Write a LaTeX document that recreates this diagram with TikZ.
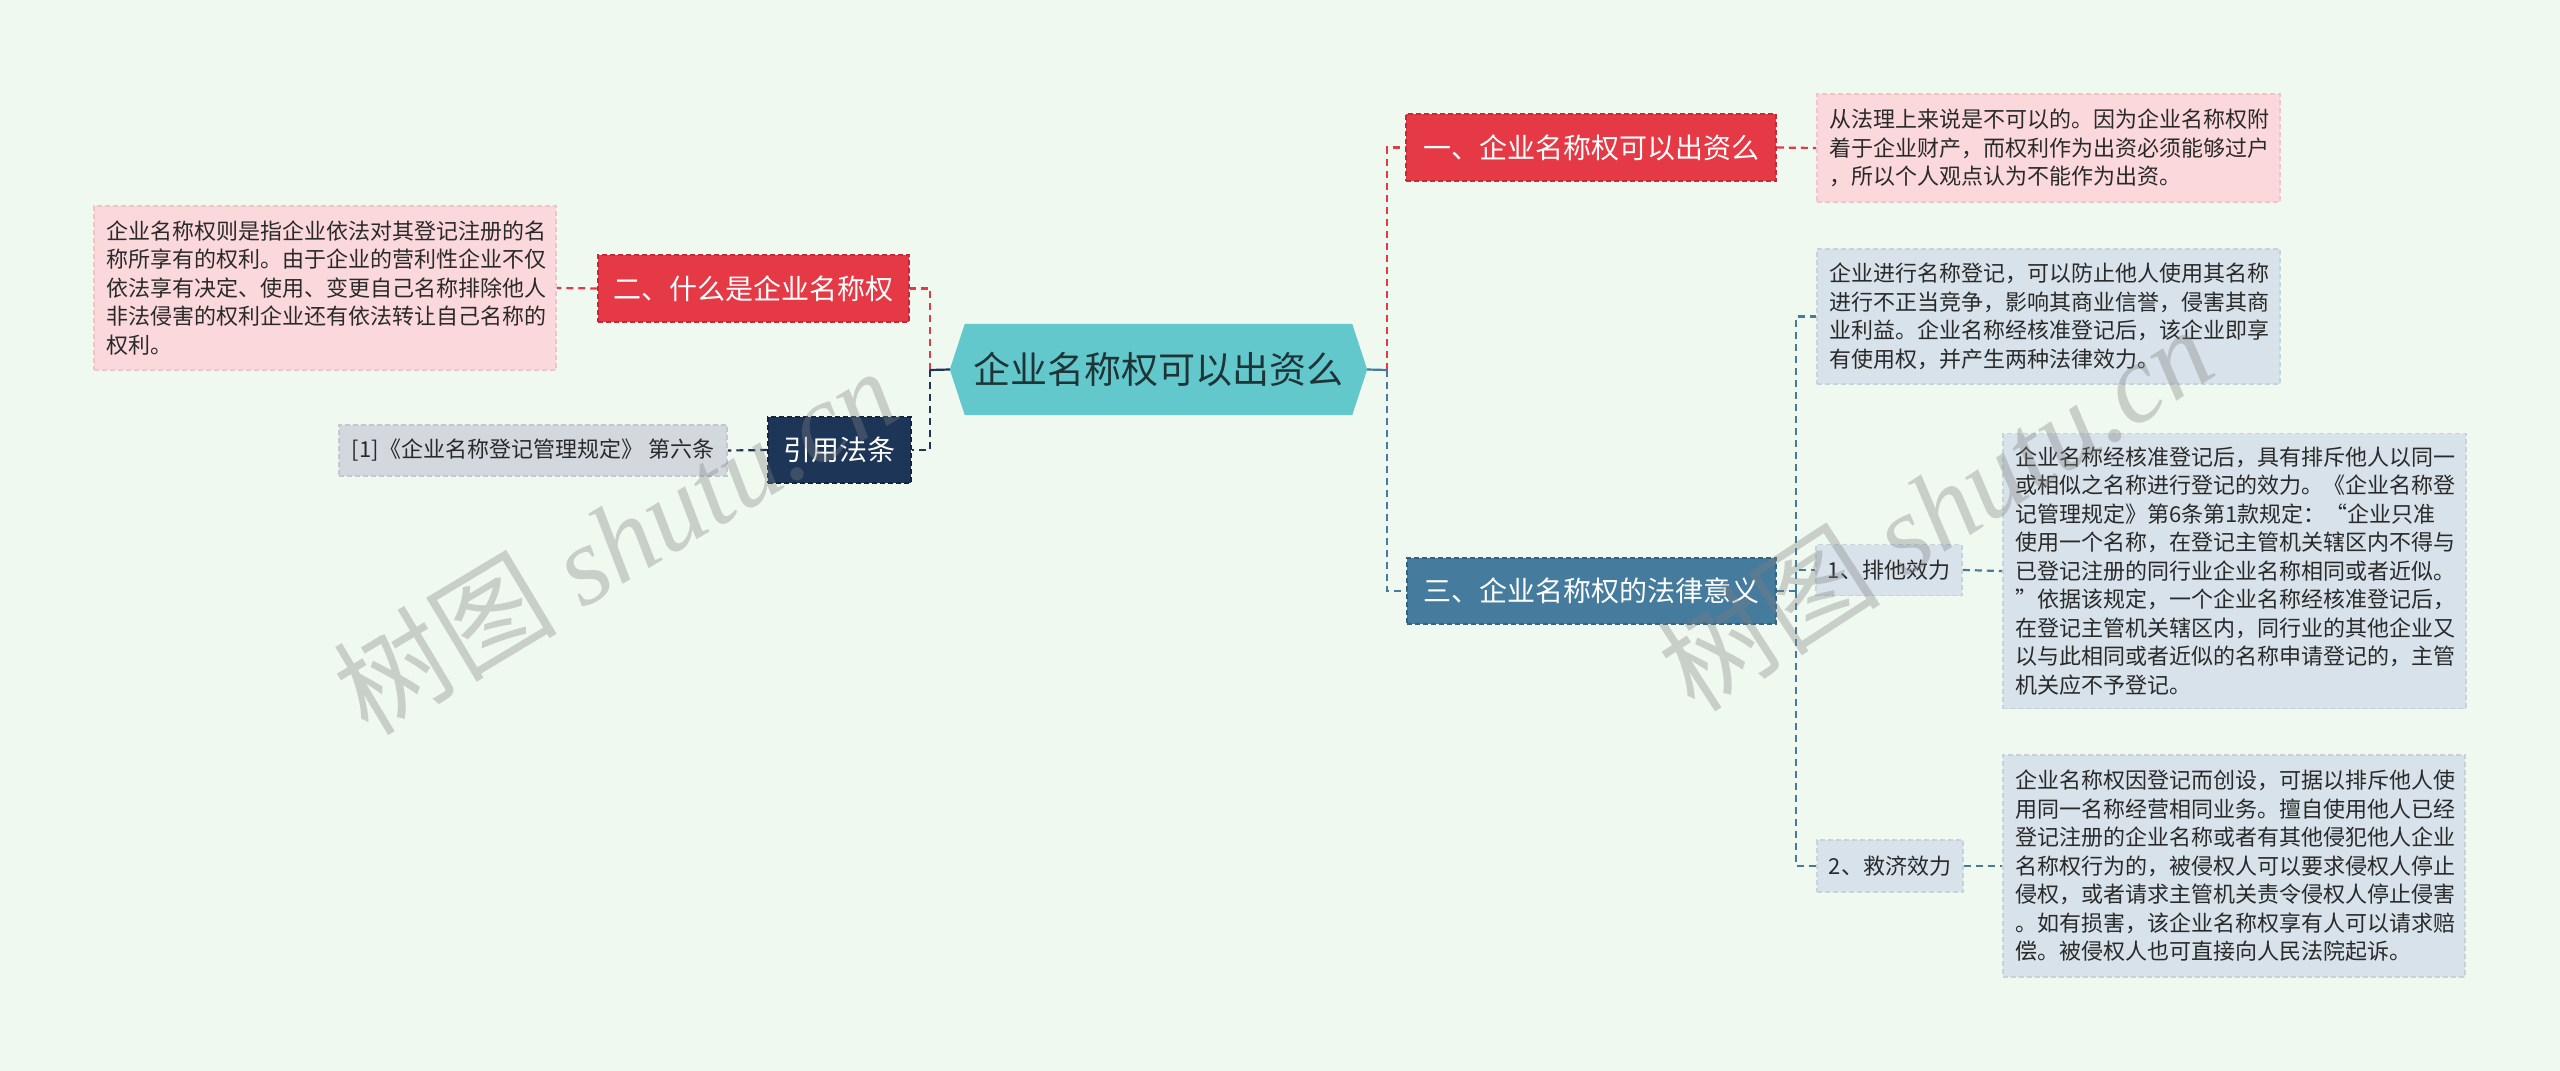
\documentclass[tikz,border=0pt]{standalone}
\usepackage{fontspec}
\setmainfont{Noto Sans CJK SC}
\newfontfamily\wmlatin{Liberation Serif}
\usetikzlibrary{backgrounds}
\definecolor{bgc}{HTML}{F0F9EF}
\definecolor{rootc}{HTML}{62C8CC}
\definecolor{roottext}{HTML}{1E3436}
\definecolor{redc}{HTML}{E63946}
\definecolor{redb}{HTML}{C42A37}
\definecolor{pinkc}{HTML}{FBD8DC}
\definecolor{pinkb}{HTML}{F2C4CA}
\definecolor{bluec}{HTML}{457B9D}
\definecolor{blueb}{HTML}{36637F}
\definecolor{lbluec}{HTML}{D7E2EA}
\definecolor{lblueb}{HTML}{C6D3DD}
\definecolor{navyc}{HTML}{1D3557}
\definecolor{navyb}{HTML}{122440}
\definecolor{grayc}{HTML}{D3D8DF}
\definecolor{grayb}{HTML}{C2C8D0}
\definecolor{leaftext}{HTML}{2A2A2A}
\tikzset{
  conn/.style={line width=2.2pt, dash pattern=on 7pt off 5pt},
  boxbase/.style={rectangle, inner ysep=0pt, line width=1.5pt, dash pattern=on 5pt off 3pt},
  midnode/.style={boxbase, inner xsep=0pt, font=\fontsize{28}{34}\selectfont, text=white},
  rednode/.style={midnode, fill=redc, draw=redb},
  bluenode/.style={midnode, fill=bluec, draw=blueb},
  navynode/.style={midnode, fill=navyc, draw=navyb},
  leafbase/.style={boxbase, inner xsep=12pt, align=left, text=leaftext, font=\fontsize{22}{28.5}\selectfont},
  pinkleaf/.style={leafbase, fill=pinkc, draw=pinkb},
  blueleaf/.style={leafbase, fill=lbluec, draw=lblueb},
  grayleaf/.style={leafbase, fill=grayc, draw=grayb},
  subnode/.style={boxbase, inner xsep=0pt, fill=lbluec, draw=lblueb, text=leaftext, font=\fontsize{22}{28}\selectfont},
  wm/.style={text=gray, opacity=0.35, font=\fontsize{112}{120}\selectfont}
}
\begin{document}
\begin{tikzpicture}[x=1pt,y=-1pt]
\useasboundingbox (0,0) rectangle (2560,1071);

% root
\node[font=\fontsize{37}{44}\selectfont, text=roottext, minimum width=387pt, minimum height=91pt, inner sep=0pt] (root) at (1158.5,369.5) {企业名称权可以出资么};

% level 1
\node[rednode, minimum width=370pt, minimum height=67pt] (n1) at (1591,147.5) {一、企业名称权可以出资么};
\node[rednode, minimum width=311pt, minimum height=67pt] (n2) at (753.5,288.5) {二、什么是企业名称权};
\node[navynode, minimum width=143pt, minimum height=66pt] (cite) at (839.5,450) {引用法条};
\node[bluenode, minimum width=369pt, minimum height=66pt] (n3) at (1591.5,591) {三、企业名称权的法律意义};

% leaves
\node[pinkleaf, text width=439pt, minimum height=108pt] (l1) at (2048.5,148) {从法理上来说是不可以的。因为企业名称权附\\着于企业财产，而权利作为出资必须能够过户\\，所以个人观点认为不能作为出资。};
\node[pinkleaf, text width=438pt, minimum height=164pt] (l2) at (325,288) {企业名称权则是指企业依法对其登记注册的名\\称所享有的权利。由于企业的营利性企业不仅\\依法享有决定、使用、变更自己名称排除他人\\非法侵害的权利企业还有依法转让自己名称的\\权利。};
\node[grayleaf, minimum width=388pt, minimum height=51pt] (lcite) at (533,450.5) {[1]《企业名称登记管理规定》 第六条};
\node[blueleaf, text width=439pt, minimum height=135pt] (lb) at (2048.5,316.5) {企业进行名称登记，可以防止他人使用其名称\\进行不正当竞争，影响其商业信誉，侵害其商\\业利益。企业名称经核准登记后，该企业即享\\有使用权，并产生两种法律效力。};
\node[subnode, minimum width=146pt, minimum height=51pt] (p1) at (1889,570) {1、排他效力};
\node[subnode, minimum width=146pt, minimum height=52pt] (p2) at (1890,866) {2、救济效力};
\node[blueleaf, text width=439pt, minimum height=275pt] (lp1) at (2234.5,571) {企业名称经核准登记后，具有排斥他人以同一\\或相似之名称进行登记的效力。《企业名称登\\记管理规定》第6条第1款规定：“企业只准\\使用一个名称，在登记主管机关辖区内不得与\\已登记注册的同行业企业名称相同或者近似。\\”依据该规定，一个企业名称经核准登记后，\\在登记主管机关辖区内，同行业的其他企业又\\以与此相同或者近似的名称申请登记的，主管\\机关应不予登记。};
\node[blueleaf, text width=438pt, minimum height=222pt] (lp2) at (2234,866) {企业名称权因登记而创设，可据以排斥他人使\\用同一名称经营相同业务。擅自使用他人已经\\登记注册的企业名称或者有其他侵犯他人企业\\名称权行为的，被侵权人可以要求侵权人停止\\侵权，或者请求主管机关责令侵权人停止侵害\\。如有损害，该企业名称权享有人可以请求赔\\偿。被侵权人也可直接向人民法院起诉。};

\begin{scope}[on background layer]
\fill[bgc] (0,0) rectangle (2560,1071);
\fill[rootc] (root.north west) -- (root.north east) -- ([xshift=15pt]root.east) -- (root.south east) -- (root.south west) -- ([xshift=-15pt]root.west) -- cycle;
\coordinate (lj) at (930,370);
\coordinate (rj) at (1387,370);
\coordinate (bj) at (1796,591);
\draw[conn, redc] (lj) |- (n2.east);
\draw[conn, navyc] (lj) |- (cite.east);
\draw[navyc, line width=2.2pt] (lj) -- ([xshift=-15pt]root.west);
\draw[conn, redc] (rj) |- (n1.west);
\draw[conn, bluec] (rj) |- (n3.west);
\draw[bluec, line width=2.2pt] ([xshift=15pt]root.east) -- (rj);
\draw[conn, redc] (n1.east) -- (l1.west);
\draw[conn, redc] (n2.west) -- (l2.east);
\draw[conn, navyc] (cite.west) -- (lcite.east);
\draw[conn, bluec] (n3.east) -- (bj);
\draw[conn, bluec] (bj) |- (lb.west);
\draw[conn, bluec] (bj) |- (p1.west);
\draw[conn, bluec] (bj) |- (p2.west);
\draw[conn, bluec] (p1.east) -- (lp1.west);
\draw[conn, bluec] (p2.east) -- (lp2.west);
\end{scope}

% watermarks
\node[wm, rotate=31] (wm1) at (615,540) {树图 {\wmlatin\itshape shutu.cn}};
\node[wm, rotate=33] (wm2) at (1935,508) {树图 {\wmlatin\itshape shutu.cn}};
\end{tikzpicture}
\end{document}
